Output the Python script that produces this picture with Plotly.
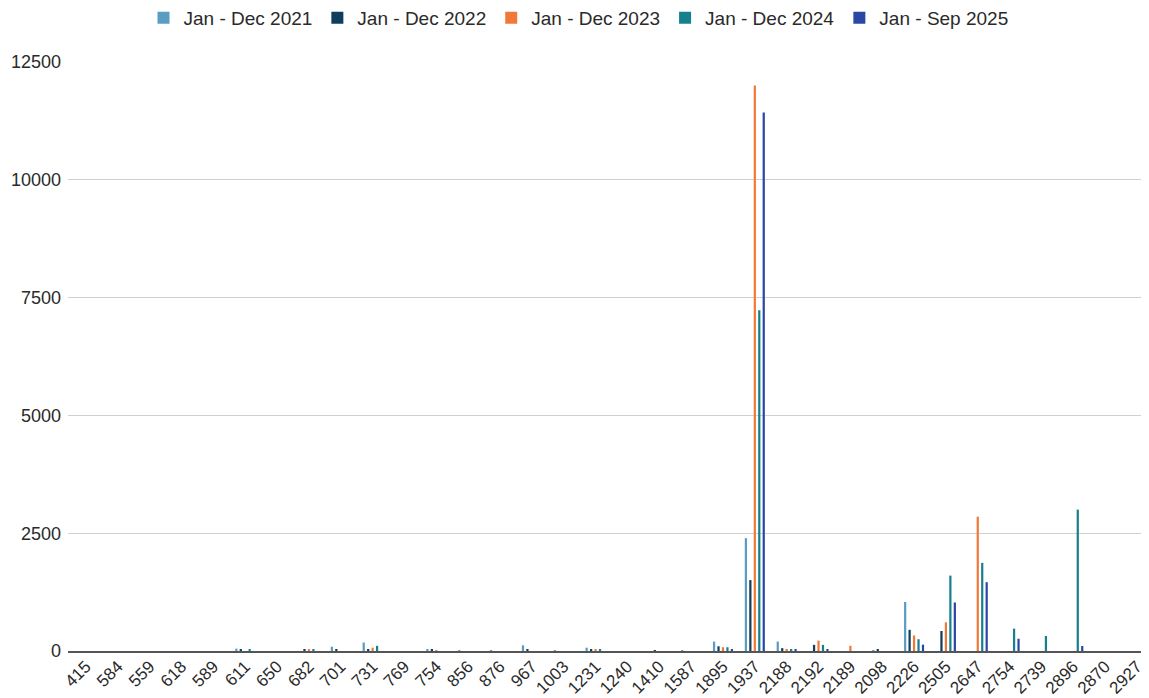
import plotly.graph_objects as go

categories = ["415", "584", "559", "618", "589", "611", "650", "682", "701", "731",
              "769", "754", "856", "876", "967", "1003", "1231", "1240", "1410", "1587",
              "1895", "1937", "2188", "2192", "2189", "2098", "2226", "2505", "2647", "2754",
              "2739", "2896", "2870", "2927"]

s2021 = [0, 0, 0, 0, 0, 50, 0, 0, 90, 180,
         0, 25, 20, 20, 120, 20, 70, 0, 0, 20,
         200, 2395, 200, 0, 0, 20, 1040, 0, 0, 0,
         0, 0, 0, 0]
s2022 = [0, 0, 0, 0, 0, 30, 0, 30, 40, 40,
         0, 25, 0, 0, 40, 0, 40, 0, 20, 0,
         100, 1505, 60, 130, 0, 30, 450, 425, 0, 0,
         0, 0, 0, 0]
s2023 = [0, 0, 0, 0, 0, 0, 0, 30, 0, 70,
         0, 20, 0, 0, 0, 0, 40, 0, 0, 0,
         80, 12000, 40, 220, 110, 0, 330, 610, 2850, 0,
         0, 0, 0, 0]
s2024 = [0, 0, 0, 0, 0, 40, 0, 30, 0, 110,
         0, 0, 0, 0, 0, 0, 30, 0, 0, 0,
         80, 7230, 40, 130, 0, 0, 250, 1600, 1870, 475,
         320, 3000, 0, 0]
s2025 = [0, 0, 0, 0, 0, 0, 0, 0, 0, 0,
         0, 0, 0, 0, 0, 0, 0, 0, 0, 0,
         40, 11430, 30, 40, 0, 0, 135, 1030, 1460, 260,
         0, 105, 0, 0]

series_names = ["Jan - Dec 2021", "Jan - Dec 2022", "Jan - Dec 2023", "Jan - Dec 2024", "Jan - Sep 2025"]
series_values = [s2021, s2022, s2023, s2024, s2025]
colors = ["#5b9cc2", "#0f3d5c", "#f0793a", "#17808f", "#2b47a6"]

y_ticks = [0, 2500, 5000, 7500, 10000, 12500]

fig = go.Figure()
for name, vals, col in zip(series_names, series_values, colors):
    fig.add_trace(go.Bar(x=categories, y=vals, name=name, marker_color=col,
                         marker_line_width=0))

# page body has an 8px default margin, so the figure is sized to fit inside the window
fig.update_layout(
    width=1141, height=690,
    margin=dict(l=60, r=1, t=54, b=47),
    paper_bgcolor="white", plot_bgcolor="white",
    barmode="group", bargap=0.3, bargroupgap=0.5,
    font=dict(family="Liberation Sans, Arial, sans-serif", size=17, color="#2a2a2a"),
    legend=dict(orientation="h", x=0.5, xanchor="center", xref="container",
                y=1 - 10 / 690, yanchor="middle", yref="container",
                font=dict(size=19, color="#2a2a2a"), traceorder="normal"),
    showlegend=True,
)
fig.update_xaxes(type="category", tickangle=-45, showgrid=False, showline=True,
                 linecolor="#555555", linewidth=2, ticks="", automargin=False,
                 range=[-0.565, 33.345], ticklabelstandoff=-3,
                 tickfont=dict(size=17, color="#2a2a2a"))
fig.update_yaxes(range=[0, 12500], tickvals=y_ticks, tickformat="d", showgrid=True,
                 gridcolor="#d0d0d0", gridwidth=1, zeroline=False, showline=False,
                 ticks="", automargin=False, ticklabelstandoff=6,
                 tickfont=dict(size=18, color="#2a2a2a"))

fig.write_html("out.html")
